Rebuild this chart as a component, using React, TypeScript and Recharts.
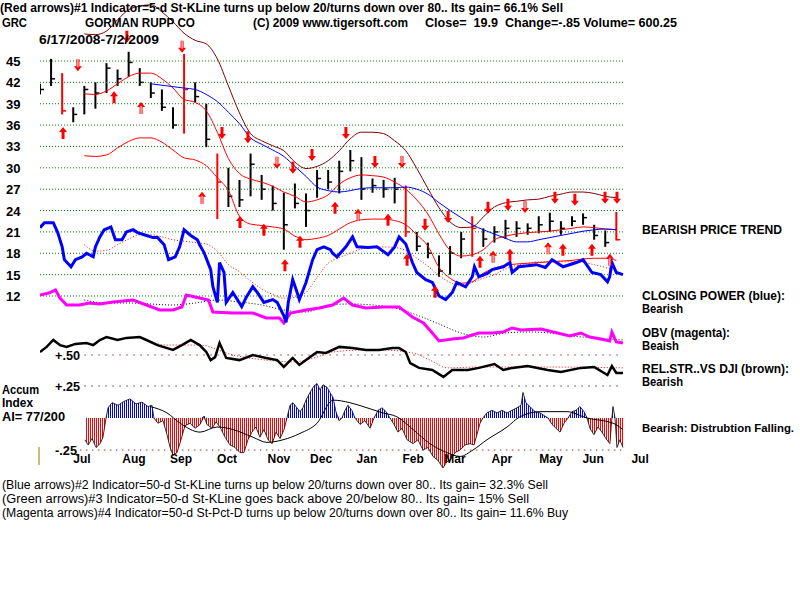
import React from 'react';
import { ComposedChart, Bar, Line, Area, Scatter, XAxis, YAxis, ReferenceLine } from 'recharts';

const font = 'Arial, "Liberation Sans", Helvetica, sans-serif';

// weekly samples, x = trading day index (0 = 6/17/2008)
const weekDays = [0, 5, 10, 15, 20, 25, 30, 35, 40, 45, 50, 55, 60, 65, 70, 75, 80, 85, 90, 95, 100, 105, 110, 115, 120, 125, 130, 135, 140, 145, 150, 155, 160, 165, 170, 175, 180, 185, 190, 195, 200, 205, 210, 215, 220, 225, 230, 235, 240, 245, 250, 255, 260];
const weekHigh = [41.8, 45.3, 43.3, 38.5, 41.5, 42, 44.7, 43.8, 46.3, 44, 42, 41, 38.5, 46, 42, 39, 32, 30, 28.3, 32, 29, 27.5, 26.5, 27.8, 26.4, 29.7, 29.7, 31, 32.5, 31.5, 28.5, 28.3, 28.6, 27.5, 21, 19.5, 17.7, 19, 21, 23.2, 21.5, 21.8, 22.7, 22.5, 22.2, 23.2, 23.7, 22.5, 23.2, 23.6, 22, 21.2, 23.8];
const weekLow = [40.3, 41.5, 37.5, 36.4, 37.5, 38.3, 40.5, 41.5, 42.8, 41.5, 39.8, 38, 35.5, 34.8, 39.2, 32.9, 22.8, 24.5, 24.5, 26, 25.5, 24, 18.5, 24.3, 21.7, 25.8, 27, 26.4, 29.5, 25.5, 26.5, 25.8, 25, 20.3, 18.3, 17.3, 14.7, 15, 17.3, 17.5, 18.9, 19.5, 20, 20.3, 20.6, 20.8, 21, 20.6, 21.8, 22, 19.9, 18.9, 19.8];
const weekClose = [41, 42.5, 38, 37.5, 41, 40.5, 44, 42.5, 44.8, 42, 40.5, 38.5, 36, 41, 40, 34, 28, 26, 25.5, 30.5, 27, 25, 22, 25, 24, 28.5, 28, 29.5, 31, 27, 27.5, 27, 27, 21, 19, 18, 15.5, 18, 20, 21.5, 20, 21, 21.5, 21.5, 21.5, 22, 22.5, 21.5, 22.5, 23, 20.5, 19.5, 19.9];
const redBarDays = [10, 65, 80, 165, 195, 260];

const upperBand = [null, null, null, null, 48.8, 48.7, 49.2, 50.8, 52.2, 52.7, 52.9, 51.9, 50.5, 48.9, 47.9, 47.4, 45.3, 41.5, 37.7, 34.8, 33.8, 33.1, 32.4, 30.8, 29.9, 30.2, 31, 32.4, 34.1, 35, 35, 34.8, 33.8, 32.4, 29.9, 27.1, 24.4, 22.4, 21.6, 21.7, 23.1, 24.5, 25.1, 25.3, 25.5, 25.6, 26, 26.3, 26.6, 26.6, 26.4, 26, 25.8];
const midBand = [null, null, null, null, 40.4, 40.3, 40.8, 41.8, 42.8, 43.3, 43.3, 42.5, 41.2, 39.6, 39.2, 38, 35, 31.3, 29.2, 28.4, 28, 27.4, 26.6, 26, 25.2, 25.5, 26.2, 27.7, 28.6, 29, 28.9, 28.7, 28, 27, 25.5, 23.5, 20.7, 18.4, 17.6, 17.8, 18.5, 19.9, 20.4, 20.7, 20.9, 21, 21.1, 21.3, 21.5, 21.7, 21.6, 21.4, 21.3];
const lowerBand = [null, null, null, null, 31.7, 31.6, 31.8, 32.8, 33.7, 34.2, 34.2, 33.6, 32.5, 31.4, 31.1, 30.3, 28.6, 26.8, 23.2, 22.1, 21.9, 21.7, 21.4, 20.4, 19.9, 20.1, 20.5, 21.4, 22.3, 22.7, 22.8, 22.8, 22.6, 22, 20.6, 19, 16, 14.5, 13.8, 14, 15.2, 15.9, 16.3, 16.5, 16.6, 16.7, 16.8, 16.9, 17, 17.2, 17.3, 17.3, 17];
const blueAvg = [null, null, null, null, null, null, null, null, null, null, 41.8, 41.6, 41.4, 41.2, 41, 40.3, 39.3, 37.8, 36.2, 34.2, 33.3, 32.5, 31.6, 30.2, 28.8, 27.3, 26.8, 26.6, 26.8, 27.1, 27.2, 27.2, 27.2, 27.3, 27, 26.3, 25.1, 24, 23, 22, 21.3, 20.7, 20.1, 19.6, 19.6, 19.9, 20.2, 20.5, 20.8, 21.1, 21.3, 21.4, 21.3];
const cpAvg = [null, null, null, null, 19.2, 18.3, 18.4, 19.2, 20, 20.6, 20.6, 20.3, 19.9, 19.7, 19.5, 19.3, 18.3, 16.4, 15.4, 14.1, 13, 12.2, 11.7, 11.8, 12.5, 14.6, 16.6, 17.4, 18, 18.6, 18.8, 18.9, 18.8, 18.4, 17.3, 16.2, 14.9, 13.9, 13.4, 13.9, 14.5, 15, 15.8, 16.3, 16.6, 16.8, 16.8, 16.8, 16.8, 16.7, 16.4, 16, 15.5];

// closing power (blue), drawn on the price scale: [day, value]
const closingPower = [[0, 21.6], [2, 22.3], [6, 22.3], [8, 20.9], [10, 18.9], [11, 17.1], [14, 16.1], [16, 17.1], [19, 17.5], [21, 18], [24, 17.5], [25, 18.9], [27, 20.3], [29, 21.3], [32, 21.7], [34, 19.9], [37, 19.9], [39, 21], [42, 21.3], [44, 20.9], [47, 20.6], [51, 20.2], [53, 20.2], [56, 19.2], [58, 17.1], [61, 17.5], [63, 18.9], [65, 21.3], [68, 20.5], [71, 19.9], [72, 19.2], [74, 18.1], [77, 15.7], [78, 13.3], [80, 11.1], [81, 16.7], [83, 15.3], [84, 11.1], [87, 12.5], [89, 11.5], [91, 10.5], [93, 11.8], [96, 13.3], [98, 12.5], [101, 11.1], [103, 11.3], [105, 11.5], [107, 11.1], [110, 9.2], [111, 8.3], [112, 11.1], [114, 14.3], [116, 12.5], [117, 11.5], [120, 13.9], [123, 17.1], [125, 18.5], [128, 18.9], [131, 18.5], [132, 18], [134, 17.5], [138, 18.9], [141, 20.3], [143, 18.9], [148, 18.8], [152, 18.9], [157, 17.8], [160, 18.9], [162, 20.3], [165, 19.3], [168, 16.7], [170, 15.3], [174, 14.3], [177, 13.9], [180, 12], [183, 11.5], [186, 12.5], [188, 13.9], [192, 13.3], [195, 14.7], [196, 16.1], [198, 14.7], [202, 15.2], [204, 15.7], [209, 16.1], [212, 16.7], [213, 15.3], [216, 16.1], [224, 16.4], [228, 16], [231, 17.1], [236, 16.1], [242, 16.7], [245, 17.1], [249, 15.3], [253, 15], [256, 14], [257, 14.7], [258, 16.7], [260, 15.3], [263, 15]];

// OBV (magenta) and its average: [day, value]
const obv = [[0, 25], [4, 26], [7, 27.5], [9, 23.5], [12, 20], [18, 20], [22, 21], [27, 20.5], [33, 21.5], [42, 22.5], [48, 20], [54, 17.5], [60, 17.5], [64, 19], [66, 25], [72, 23.5], [76, 22.5], [78, 16.5], [87, 16], [96, 16], [102, 13.5], [108, 13.5], [110, 11], [113, 16], [120, 17.5], [126, 18.5], [132, 20], [137, 23.5], [141, 20], [147, 18.5], [155, 19], [162, 19], [168, 14], [173, 11], [177, 6], [180, 2], [186, 3], [191, 3.5], [195, 5], [198, 6], [204, 6], [209, 6.5], [213, 8.5], [217, 7.5], [226, 8], [239, 4.5], [244, 6], [248, 4], [253, 3], [257, 2], [258, 6.5], [260, 1.5], [263, 1]];
const obvAvg = [[20, 22.5], [30, 21], [40, 21], [50, 20.5], [60, 20], [70, 21], [80, 22.5], [90, 21.5], [100, 20], [110, 17.5], [120, 16.5], [130, 20], [140, 20.5], [150, 20], [160, 18.5], [170, 15], [180, 10.5], [190, 6], [200, 4], [210, 6], [220, 6.5], [230, 6], [240, 4.5], [250, 3.5], [263, 2.5]];

// relative strength vs DJI and its average: [day, value]
const relStr = [[0, 0.51], [3, 0.527], [6, 0.55], [9, 0.533], [12, 0.527], [16, 0.537], [21, 0.54], [24, 0.533], [27, 0.55], [30, 0.56], [35, 0.55], [39, 0.557], [45, 0.56], [48, 0.55], [53, 0.533], [60, 0.517], [64, 0.533], [68, 0.55], [72, 0.533], [75, 0.51], [77, 0.483], [79, 0.493], [81, 0.54], [84, 0.49], [90, 0.483], [96, 0.5], [102, 0.49], [107, 0.483], [110, 0.46], [114, 0.49], [117, 0.467], [120, 0.483], [125, 0.51], [129, 0.507], [135, 0.527], [141, 0.523], [147, 0.517], [153, 0.517], [159, 0.523], [162, 0.523], [165, 0.51], [167, 0.473], [171, 0.457], [177, 0.45], [182, 0.427], [186, 0.45], [193, 0.45], [198, 0.457], [205, 0.47], [209, 0.45], [213, 0.457], [220, 0.463], [229, 0.45], [235, 0.443], [244, 0.457], [250, 0.46], [256, 0.433], [258, 0.463], [260, 0.44], [263, 0.44]];
const relStrAvg = [[48, 0.55], [57, 0.533], [72, 0.533], [87, 0.5], [102, 0.483], [114, 0.477], [125, 0.493], [132, 0.51], [148, 0.517], [153, 0.517], [168, 0.507], [176, 0.483], [184, 0.457], [198, 0.46], [230, 0.46], [263, 0.457]];

// accumulation index and its average: [day, value]
const accum = [[20.3, -0.17], [21.7, -0.21], [23.5, -0.16], [25.3, -0.23], [27.1, -0.2], [28.4, -0.15], [29.8, 0], [30.7, 0.08], [32.5, 0.12], [35.2, 0.1], [37.9, 0.13], [40.6, 0.15], [43.3, 0.11], [46, 0.125], [48.7, 0.09], [50.5, 0.1], [51.4, 0], [53.2, -0.04], [55.5, -0.02], [57.3, -0.13], [58.7, -0.23], [60, -0.29], [61.8, -0.27], [63.6, -0.17], [65.4, -0.06], [67.7, -0.04], [69.9, -0.08], [72.2, -0.05], [74, 0.015], [75.3, -0.05], [77.6, -0.08], [79.4, -0.03], [81.2, -0.07], [83.5, -0.15], [85.7, -0.21], [88, -0.23], [90.2, -0.27], [92, -0.27], [93.8, -0.17], [95.6, -0.11], [97.4, -0.07], [99.2, -0.15], [101, -0.09], [102.9, -0.17], [104.7, -0.2], [106.5, -0.11], [108.3, -0.16], [110.1, -0.09], [111.4, 0], [112.8, 0.1], [114.1, 0.12], [115.9, 0.08], [117.3, 0.05], [118.6, 0.08], [120, 0.14], [121.8, 0.2], [123.6, 0.25], [125, 0.27], [126.3, 0.22], [127.7, 0.26], [129.5, 0.24], [130.8, 0.2], [132.2, 0.16], [133.5, 0.05], [134.9, -0.02], [136.2, 0], [137.6, 0.06], [138.9, 0.1], [140.7, 0.06], [142.1, 0], [144.4, -0.05], [146.6, -0.02], [148.9, -0.08], [150.7, 0], [152.5, 0.06], [154.3, 0.08], [156.1, 0.05], [157.9, 0], [159.7, -0.05], [161.5, -0.11], [163.3, -0.08], [165.6, -0.17], [168.3, -0.2], [170.5, -0.17], [172.8, -0.25], [175, -0.23], [177.3, -0.3], [179.5, -0.33], [181.8, -0.39], [183.6, -0.34], [185, -0.33], [187.2, -0.27], [189.5, -0.25], [191.7, -0.21], [194, -0.2], [195.8, -0.21], [197.1, -0.13], [198.5, -0.04], [199.8, 0], [201.6, 0.04], [203.9, 0.06], [206.2, 0.04], [208.4, 0.06], [210.7, 0.04], [212.9, 0.06], [215.2, 0.08], [217, 0.1], [217.9, 0.2], [219.2, 0.12], [221, 0.09], [223.3, 0.05], [225.6, 0.04], [227.8, 0.015], [229.2, 0], [231, -0.05], [232.8, -0.08], [234.6, -0.11], [236.4, -0.04], [238.2, 0], [240, 0.05], [241.8, 0.06], [243.6, 0.09], [245.4, 0.05], [246.8, 0], [248.1, -0.08], [249.9, -0.13], [251.7, -0.07], [253.5, -0.11], [255.3, -0.16], [257.1, -0.2], [258, 0], [258.5, 0.09], [259.4, 0], [260.3, -0.23], [261.6, -0.17], [263, -0.23]];
const accumAvg = [[49.6, 0.09], [57.3, 0.04], [63.2, -0.04], [72.2, -0.11], [79.8, -0.07], [87.1, -0.09], [96.1, -0.15], [102.4, -0.19], [109.6, -0.17], [117.3, -0.12], [125, -0.04], [132.2, 0.14], [139.8, 0.12], [147.5, 0.08], [154.7, 0.04], [161, 0.01], [168.3, -0.09], [175.9, -0.2], [183.6, -0.27], [189.5, -0.3], [195.3, -0.25], [201.6, -0.17], [210.7, -0.07], [216.5, 0.01], [225.6, 0.05], [237.7, 0.05], [246.8, 0], [258.5, -0.04], [263, -0.09]];

// signal arrows: [day, price level, hollow]
const downArrows = [[17.1, 44.4, 1], [39.2, 48.4, 0], [64.1, 47, 1], [82.1, 34.9, 0], [93.8, 34.3, 0], [106.9, 30.7, 1], [114.1, 30, 0], [122.7, 31.8, 0], [138, 34.9, 0], [151.1, 30.8, 0], [163.3, 30.8, 1], [173.7, 22, 0], [184.1, 23.1, 0], [202.1, 24.4, 0], [211.1, 24.8, 0], [218.8, 24.5, 1], [232.3, 25.8, 0], [241.3, 25.5, 0], [254.9, 25.8, 0], [260.3, 25.8, 0]];
const upArrows = [[10.4, 34.9, 0], [33.4, 39.9, 0], [45.6, 38.4, 1], [73.1, 25.8, 1], [90.2, 22.4, 0], [101, 21.3, 0], [110.5, 16.3, 0], [117.3, 19.6, 0], [133.1, 24.4, 0], [143.5, 23.4, 1], [157, 22.7, 0], [165.6, 17.1, 0], [178.2, 12.6, 0], [198.5, 16.8, 0], [204.4, 17.5, 1], [212, 17.8, 0], [229.2, 18.7, 1], [235.9, 18.5, 0], [249, 18.5, 0], [257.1, 17.1, 1]];

const priceTicks = [12, 15, 18, 21, 24, 27, 30, 33, 36, 39, 42, 45];
const monthTicks = [18.9, 42.4, 63.6, 84.4, 107.8, 126.8, 147.5, 168.3, 187.2, 208.4, 230.5, 249.5, 270.7];
const monthLabels = ['Jul', 'Aug', 'Sep', 'Oct', 'Nov', 'Dec', 'Jan', 'Feb', 'Mar', 'Apr', 'May', 'Jun', 'Jul'];

const weekly = weekDays.map((t, i) => ({
    t,
    range: [weekLow[i], weekHigh[i]],
    close: weekClose[i],
    red: redBarDays.includes(t),
    upper: upperBand[i],
    mid: midBand[i],
    lower: lowerBand[i],
    avg: blueAvg[i],
    cpAvg: cpAvg[i],
}));
const rows = (pts: number[][]) => pts.map(([t, v]) => ({ t, v }));
const accumRows = accum.map(([t, v]) => ({ t, v, pos: Math.max(v, 0), neg: Math.min(v, 0) }));
const arrowRows = (pts: number[][], dir: string) => pts.map(([t, p, h]) => ({ t, p, dir, hollow: h === 1 }));

const PriceBarShape = (props: any) => {
    const { x, y, width, height, payload } = props;
    if (height == null || !payload) return null;
    const [lo, hi] = payload.range;
    const top = Math.min(y, y + height);
    const h = Math.abs(height);
    const cx = x + width / 2;
    const cy = top + ((hi - payload.close) / (hi - lo)) * h;
    const color = payload.red ? '#ff0000' : '#000';
    return (
        <g>
            <line x1={cx} y1={top} x2={cx} y2={top + h} stroke={color} strokeWidth={2} />
            <line x1={cx} y1={cy} x2={cx + 4} y2={cy} stroke={color} strokeWidth={1.5} />
        </g>
    );
};

const ArrowShape = (props: any) => {
    const { cx, cy, payload } = props;
    if (cx == null || cy == null) return null;
    const s = payload.dir === 'up' ? 1 : -1;
    // head points up for s = 1
    const d = `M${cx},${cy - 6 * s} L${cx + 4},${cy - 1 * s} L${cx + 1.5},${cy - 1 * s} L${cx + 1.5},${cy + 6 * s} L${cx - 1.5},${cy + 6 * s} L${cx - 1.5},${cy - 1 * s} L${cx - 4},${cy - 1 * s} Z`;
    return (
        <g>
            <path d={d} fill="#ff0000" />
            {payload.hollow && <line x1={cx} y1={cy - 2 * s} x2={cx} y2={cy + 6 * s} stroke="#fff" strokeWidth={1} />}
        </g>
    );
};

const PriceTick = (props: any) => (
    <text x={6} y={props.y + 5} fontFamily={font} fontWeight="bold" fontSize={13} fill="#000">
        {props.payload.value}
    </text>
);

const MonthTick = (props: any) => {
    const i = monthTicks.indexOf(props.payload.value);
    return (
        <text x={props.x} y={props.y - 17} textAnchor="middle" fontFamily={font} fontWeight="bold" fontSize={12} fill="#000">
            {monthLabels[i]}
        </text>
    );
};

const T = ({ x, y, w, size = 12, bold = true, children }: any) => (
    <text
        x={x}
        y={y}
        textLength={w}
        lengthAdjust="spacingAndGlyphs"
        fontFamily={font}
        fontSize={size}
        fontWeight={bold ? 'bold' : 'normal'}
        fill="#000"
        style={{ whiteSpace: 'pre' }}
    >
        {children}
    </text>
);

export default function App() {
    return (
        <div style={{ position: 'absolute', left: 0, top: 0, width: 800, height: 600, background: '#fff', overflow: 'hidden' }}>
            <ComposedChart width={800} height={600} data={weekly} margin={{ top: 0, right: 95, bottom: 119, left: 0 }}>
                <defs>
                    <pattern id="aiRed" patternUnits="userSpaceOnUse" x={0} y={0} width={2} height={4}>
                        <rect x={0} y={0} width={1} height={4} fill="#ff0000" />
                    </pattern>
                    <pattern id="aiBlue" patternUnits="userSpaceOnUse" x={0} y={0} width={2} height={4}>
                        <rect x={0} y={0} width={1} height={4} fill="#0000ff" />
                    </pattern>
                </defs>
                <XAxis
                    dataKey="t"
                    type="number"
                    domain={[0, 300]}
                    ticks={monthTicks}
                    interval={0}
                    tick={<MonthTick />}
                    axisLine={false}
                    tickLine={false}
                    tickSize={0}
                    tickMargin={0}
                    height={1}
                    allowDataOverflow
                />
                <YAxis
                    yAxisId="price"
                    type="number"
                    domain={[-13.84, 53.566]}
                    ticks={priceTicks}
                    interval={0}
                    tick={<PriceTick />}
                    width={40}
                    axisLine={false}
                    tickLine={false}
                    allowDataOverflow
                />
                <YAxis yAxisId="obv" type="number" hide domain={[-67.5, 172.5]} allowDataOverflow />
                <YAxis yAxisId="rs" type="number" hide domain={[0.0833, 1.6833]} allowDataOverflow />
                <YAxis yAxisId="ai" type="number" hide domain={[-0.484, 3.266]} allowDataOverflow />

                {priceTicks.map((p) => (
                    <ReferenceLine key={p} yAxisId="price" segment={[{ x: 0, y: p }, { x: 263, y: p }]} stroke="#008000" strokeDasharray="1 2" />
                ))}
                <ReferenceLine yAxisId="rs" segment={[{ x: 20, y: 0.5 }, { x: 263, y: 0.5 }]} stroke="#993333" strokeDasharray="1.5 5.5" />
                <ReferenceLine yAxisId="ai" segment={[{ x: 20, y: 0.25 }, { x: 263, y: 0.25 }]} stroke="#663333" strokeDasharray="1.5 5.5" />
                <ReferenceLine yAxisId="ai" segment={[{ x: 18, y: -0.25 }, { x: 263, y: -0.25 }]} stroke="#993333" strokeDasharray="1.5 4.5" />

                {/* accumulation index histogram */}
                <Area yAxisId="ai" data={accumRows} dataKey="pos" type="linear" baseValue={0} fill="url(#aiBlue)" fillOpacity={1} stroke="none" isAnimationActive={false} />
                <Area yAxisId="ai" data={accumRows} dataKey="neg" type="linear" baseValue={0} fill="url(#aiRed)" fillOpacity={1} stroke="none" isAnimationActive={false} />
                <Line yAxisId="ai" data={accumRows} dataKey="v" type="linear" stroke="#000" strokeWidth={0.8} dot={false} isAnimationActive={false} />
                <Line yAxisId="ai" data={rows(accumAvg)} dataKey="v" type="monotone" stroke="#000" strokeWidth={1} dot={false} isAnimationActive={false} />

                {/* relative strength */}
                <Line yAxisId="rs" data={rows(relStrAvg)} dataKey="v" type="monotone" stroke="#ff0000" strokeWidth={1} strokeDasharray="1 2" dot={false} isAnimationActive={false} />
                <Line yAxisId="rs" data={rows(relStr)} dataKey="v" type="linear" stroke="#000" strokeWidth={2.5} dot={false} isAnimationActive={false} />

                {/* OBV */}
                <Line yAxisId="obv" data={rows(obvAvg)} dataKey="v" type="monotone" stroke="#000" strokeWidth={1} strokeDasharray="1 2" dot={false} isAnimationActive={false} />
                <Line yAxisId="obv" data={rows(obv)} dataKey="v" type="linear" stroke="#ff00ff" strokeWidth={3} dot={false} isAnimationActive={false} />

                {/* price bands and averages */}
                <Line yAxisId="price" dataKey="upper" type="monotone" stroke="#800000" strokeWidth={1} dot={false} isAnimationActive={false} />
                <Line yAxisId="price" dataKey="mid" type="monotone" stroke="#ff0000" strokeWidth={1} dot={false} isAnimationActive={false} />
                <Line yAxisId="price" dataKey="lower" type="monotone" stroke="#ff0000" strokeWidth={1} dot={false} isAnimationActive={false} />
                <Line yAxisId="price" dataKey="avg" type="monotone" stroke="#0000ff" strokeWidth={1} dot={false} isAnimationActive={false} />
                <Line yAxisId="price" dataKey="cpAvg" type="monotone" stroke="#ff0000" strokeWidth={1} strokeDasharray="1 2" dot={false} isAnimationActive={false} />

                {/* closing power */}
                <Line yAxisId="price" data={rows(closingPower)} dataKey="v" type="linear" stroke="#0000ff" strokeWidth={3} dot={false} isAnimationActive={false} />

                <Bar yAxisId="price" dataKey="range" barSize={3} shape={<PriceBarShape />} isAnimationActive={false} />

                <Scatter yAxisId="price" data={arrowRows(upArrows, 'up')} dataKey="p" shape={<ArrowShape />} isAnimationActive={false} />
                <Scatter yAxisId="price" data={arrowRows(downArrows, 'down')} dataKey="p" shape={<ArrowShape />} isAnimationActive={false} />
            </ComposedChart>

            <svg width={800} height={600} style={{ position: 'absolute', left: 0, top: 0, pointerEvents: 'none' }}>
                <T x={0} y={12} w={563}>(Red arrows)#1 Indicator=5-d St-KLine turns up below 20/turns down over 80.. Its gain= 66.1% Sell</T>
                <T x={2} y={27} w={25}>GRC</T>
                <T x={85} y={27} w={110}>GORMAN RUPP CO</T>
                <T x={253} y={27} w={155}>(C) 2009 www.tigersoft.com</T>
                <T x={425} y={27} w={252}>Close=  19.9  Change=-.85 Volume= 600.25</T>
                <T x={39} y={44} w={120}>6/17/2008-7/2/2009</T>

                <T x={642} y={234} w={140}>BEARISH PRICE TREND</T>
                <T x={642} y={300} w={143}>CLOSING POWER (blue):</T>
                <T x={642} y={313} w={41}>Bearish</T>
                <T x={642} y={337} w={88}>OBV (magenta):</T>
                <T x={642} y={350} w={37}>Beaish</T>
                <T x={642} y={373} w={147}>REL.STR..VS DJI (brown):</T>
                <T x={642} y={386} w={41}>Bearish</T>
                <T x={642} y={432} w={152} size={10.8}>Bearish: Distrubtion Falling.</T>

                <T x={55} y={360} w={25}>+.50</T>
                <T x={55} y={391} w={25}>+.25</T>
                <T x={55} y={455} w={22}>-.25</T>
                <T x={2} y={394} w={37}>Accum</T>
                <T x={2} y={407} w={31}>Index</T>
                <T x={2} y={421} w={63}>AI= 77/200</T>
                <line x1={39} y1={447} x2={39} y2={465} stroke="#808000" strokeWidth={1} />

                <T x={2} y={489} w={546} bold={false}>(Blue arrows)#2 Indicator=50-d St-KLine turns up below 20/turns down over 80.. Its gain= 32.3% Sell</T>
                <T x={2} y={503} w={527} bold={false}>(Green arrows)#3 Indicator=50-d St-KLine goes back above 20/below 80.. Its gain= 15% Sell</T>
                <T x={2} y={517} w={566} bold={false}>(Magenta arrows)#4 Indicator=50-d St-Pct-D turns up below 20/turns down over 80.. Its gain= 11.6% Buy</T>
            </svg>
        </div>
    );
}
